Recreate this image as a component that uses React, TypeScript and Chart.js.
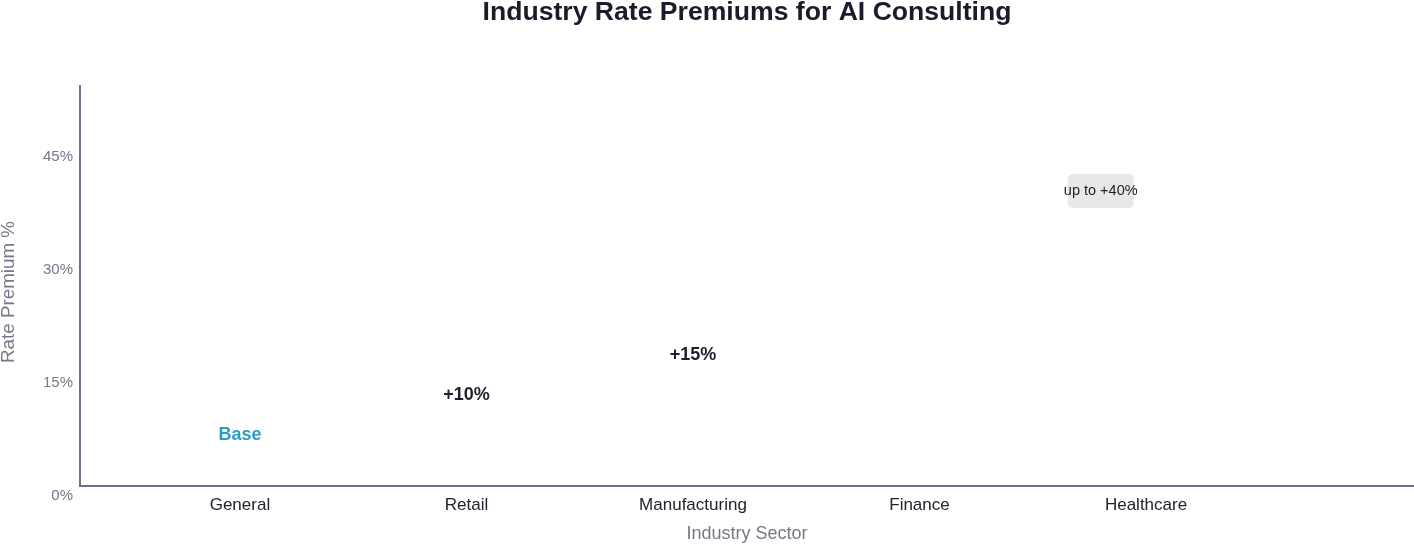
import React, { useEffect, useRef } from 'react';
import { Chart, registerables } from 'chart.js';

Chart.register(...registerables);

const categories = ['General', 'Retail', 'Manufacturing', 'Finance', 'Healthcare'];
const premiumLabels = ['Base', '+10%', '+15%', '', 'up to +40%'];
const labelX = [0, 1, 2, 3, 3.8];
const labelY: (number | null)[] = [6.8, 12.1, 17.4, null, 39.1];
const yTickValues = [0, 15, 30, 45];

const FONT = '"Liberation Sans", Arial, Helvetica, sans-serif';

export default function App() {
  const ref = useRef<HTMLCanvasElement>(null);

  useEffect(() => {
    if (!ref.current) return;
    const idx = categories.map((_, i) => i).filter((i) => labelY[i] != null);
    const points = idx.map((i) => ({ x: labelX[i], y: labelY[i] as number }));

    const titlePlugin = {
      id: 'centerTitle',
      afterDraw(chart: any) {
        const { ctx, chartArea } = chart;
        ctx.save();
        ctx.font = `bold 26.6px ${FONT}`;
        ctx.fillStyle = '#1c1b2b';
        ctx.textAlign = 'center';
        ctx.textBaseline = 'middle';
        ctx.fillText('Industry Rate Premiums for AI Consulting', (chartArea.left + chartArea.right) / 2, 13);
        ctx.restore();

        // y-axis title
        ctx.save();
        ctx.translate(9, (chartArea.top + chartArea.bottom) / 2 + 6);
        ctx.rotate(-Math.PI / 2);
        ctx.font = `18.8px ${FONT}`;
        ctx.fillStyle = '#76768c';
        ctx.textAlign = 'center';
        ctx.textBaseline = 'middle';
        ctx.fillText('Rate Premium %', 0, 0);
        ctx.restore();
      },
    };

    const labelPlugin = {
      id: 'premiumLabels',
      afterDatasetsDraw(chart: any) {
        const meta = chart.getDatasetMeta(0);
        const ctx = chart.ctx;
        meta.data.forEach((pt: any, j: number) => {
          const i = idx[j];
          const text = premiumLabels[i];
          if (!text) return;
          const x = pt.x;
          const y = pt.y;
          ctx.save();
          ctx.textAlign = 'center';
          ctx.textBaseline = 'middle';
          if (i === 4) {
            const w = 66;
            const h = 34;
            ctx.fillStyle = '#e8e8e8';
            ctx.beginPath();
            (ctx as any).roundRect(x - w / 2, y - h / 2, w, h, 5);
            ctx.fill();
            ctx.font = `14.5px ${FONT}`;
            ctx.fillStyle = '#222228';
            ctx.fillText(text, x, y);
          } else {
            ctx.font = `bold 18px ${FONT}`;
            ctx.fillStyle = i === 0 ? '#2e9cbf' : '#1f1e2e';
            ctx.fillText(text, x, y);
          }
          ctx.restore();
        });
      },
    };

    const chart = new Chart(ref.current, {
      type: 'scatter',
      data: {
        datasets: [
          {
            label: 'Rate Premium',
            data: points,
            pointRadius: 0,
            pointHoverRadius: 0,
            backgroundColor: 'rgba(0,0,0,0)',
            borderColor: 'rgba(0,0,0,0)',
          },
        ],
      },
      options: {
        animation: false,
        responsive: true,
        maintainAspectRatio: false,
        events: [],
        layout: { padding: { top: 86, left: 0, right: 0, bottom: 0 } },
        plugins: {
          legend: { display: false },
          title: { display: false },
          tooltip: { enabled: false },
        },
        scales: {
          x: {
            type: 'linear',
            min: -0.706,
            max: 5.183,
            grid: { display: false, drawTicks: false },
            border: { display: true, color: '#6f6d88', width: 2 },
            afterBuildTicks: (scale: any) => {
              scale.ticks = categories.map((_, i) => ({ value: i }));
            },
            afterFit: (scale: any) => {
              scale.height = 58;
            },
            ticks: {
              padding: 9,
              color: '#222230',
              font: { family: FONT, size: 17 },
              maxRotation: 0,
              autoSkip: false,
              callback: (v: any) => categories[Math.round(Number(v))] ?? '',
            },
            title: {
              display: true,
              text: 'Industry Sector',
              color: '#76768c',
              font: { family: FONT, size: 18, lineHeight: 1.1 },
              padding: { top: 0, bottom: 0 },
            },
          },
          y: {
            type: 'linear',
            min: 0,
            max: 53,
            grid: { display: false, drawTicks: false },
            border: { display: true, color: '#6f6d88', width: 2 },
            afterBuildTicks: (scale: any) => {
              scale.ticks = yTickValues.map((v) => ({ value: v }));
            },
            afterFit: (scale: any) => {
              scale.width = 80;
            },
            ticks: {
              padding: 7,
              labelOffset: 10,
              color: '#76768c',
              font: { family: FONT, size: 15 },
              callback: (v: any) => `${v}%`,
            },
            title: { display: false },
          },
        },
      },
      plugins: [titlePlugin, labelPlugin],
    } as any);

    return () => chart.destroy();
  }, []);

  return (
    <div style={{ position: 'fixed', left: 0, top: 0, width: 1414, height: 544, background: '#ffffff' }}>
      <canvas ref={ref} />
    </div>
  );
}
